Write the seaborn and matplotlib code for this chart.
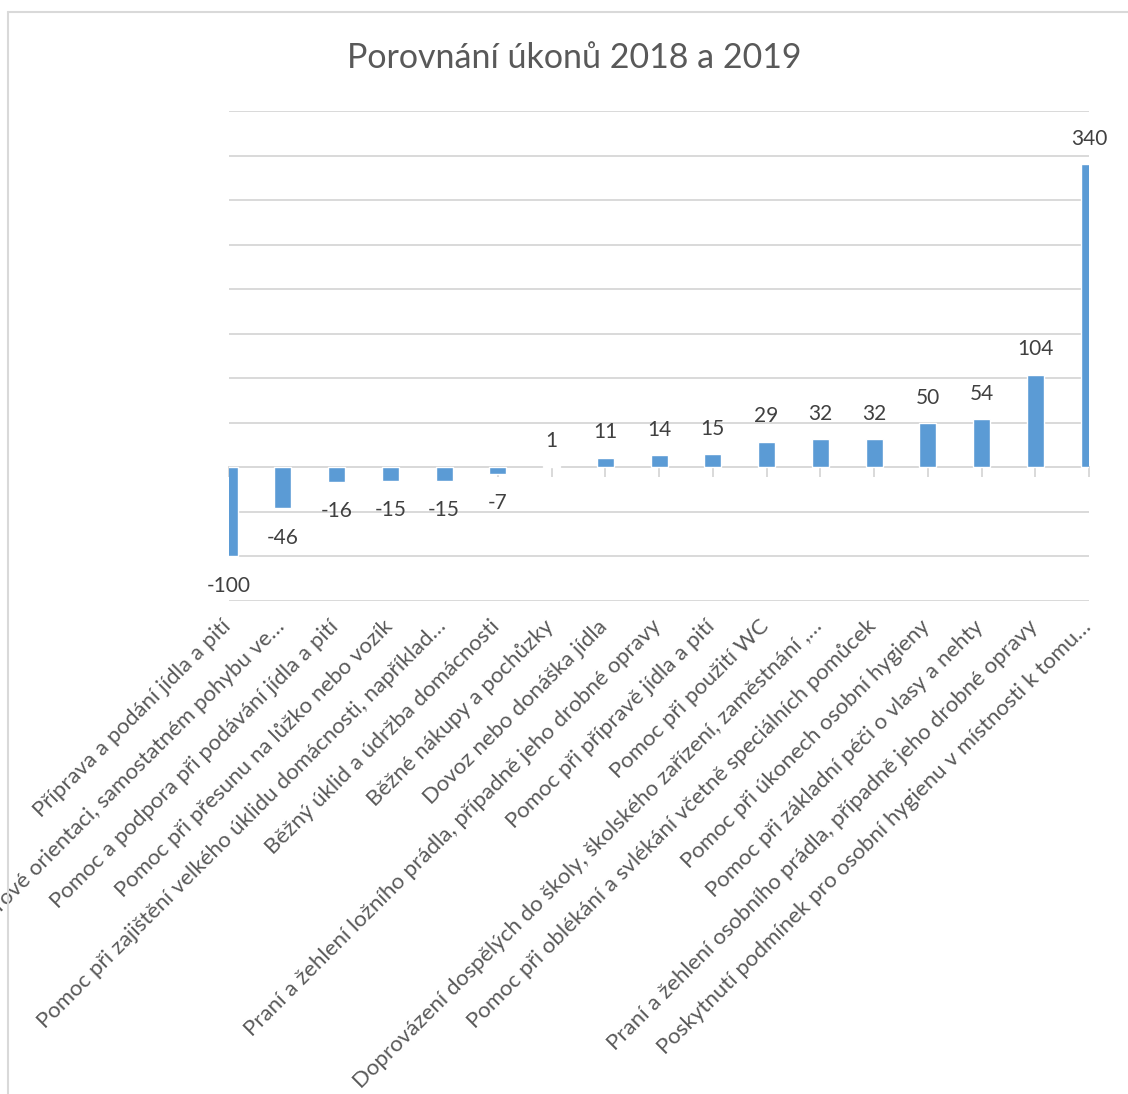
import matplotlib
matplotlib.use('Agg')
import matplotlib.pyplot as plt
import matplotlib.transforms as mtransforms
from matplotlib.lines import Line2D
import seaborn as sns
import pandas as pd

categories = [
    "Příprava a podání jídla a pití",
    "Pomoc při prostorové orientaci, samostatném pohybu ve…",
    "Pomoc a podpora při podávání jídla a pití",
    "Pomoc při přesunu na lůžko nebo vozík",
    "Pomoc při zajištění velkého úklidu domácnosti, například…",
    "Běžný úklid a údržba domácnosti",
    "Běžné nákupy a pochůzky",
    "Dovoz nebo donáška jídla",
    "Praní a žehlení ložního prádla, případně jeho drobné opravy",
    "Pomoc při přípravě jídla a pití",
    "Pomoc při použití WC",
    "Doprovázení dospělých do školy, školského zařízení, zaměstnání ,…",
    "Pomoc při oblékání a svlékání včetně speciálních pomůcek",
    "Pomoc při úkonech osobní hygieny",
    "Pomoc při základní péči o vlasy a nehty",
    "Praní a žehlení osobního prádla, případně jeho drobné opravy",
    "Poskytnutí podmínek pro osobní hygienu v místnosti k tomu…",
]
values = [-100, -46, -16, -15, -15, -7, 1, 11, 14, 15, 29, 32, 32, 50, 54, 104, 340]
title = "Porovnání úkonů 2018 a 2019"

sns.set_theme(style='white')
plt.rcParams['font.family'] = ['Lato', 'DejaVu Sans']

W, H = 1128, 1094
fig = plt.figure(figsize=(W / 100, H / 100), dpi=100)
L, R, T, B = 229, 1089, 111, 601
ax = fig.add_axes([L / W, 1 - B / H, (R - L) / W, (B - T) / H])

df = pd.DataFrame({'cat': categories, 'val': values})
sns.barplot(data=df, x='cat', y='val', color='#5B9BD5', saturation=1,
            width=17 / 53.75, ax=ax, zorder=2)

ax.set_xlim(0, len(categories) - 1)
ax.set_ylim(-150, 400)
ax.set_yticks(range(-150, 401, 50))
ax.yaxis.grid(True, color='#d9d9d9', lw=1.4)
ax.xaxis.grid(False)
ax.set_axisbelow(True)
ax.tick_params(axis='y', left=False, labelleft=False)
for s in ax.spines.values():
    s.set_visible(False)
ax.set_xlabel('')
ax.set_ylabel('')

# zero line with category tick marks
ax.spines['top'].set_visible(True)
ax.spines['top'].set_position(('data', 0))
ax.spines['top'].set_color('#d9d9d9')
ax.spines['top'].set_linewidth(1.4)
ax.spines['top'].set_zorder(1)

ax.set_xticks(range(len(categories)))
ax.set_xticklabels(categories, rotation=45, ha='right', rotation_mode='anchor')
ax.tick_params(axis='x', bottom=False, top=True, labelbottom=True, labeltop=False,
               direction='in', length=7, width=1.4, color='#d9d9d9',
               pad=11, labelsize=16, labelcolor='#595959')
offset = mtransforms.ScaledTranslation(-8 / 100, 0, fig.dpi_scale_trans)
for lab in ax.get_xticklabels():
    lab.set_transform(lab.get_transform() + offset)

bars = ax.containers[0]
pos_labels = [str(v) if v > 0 else '' for v in values]
neg_labels = [str(v) if v < 0 else '' for v in values]
ax.bar_label(bars, labels=pos_labels, padding=11, fontsize=15, color='#404040')
ax.bar_label(bars, labels=neg_labels, padding=14, fontsize=15, color='#404040')

fig.text(574 / W, 1 - 58 / H, title, ha='center', va='center',
         fontsize=24.5, color='#595959')

# outer frame (left and top edges)
fig.add_artist(Line2D([8 / W, 8 / W], [0, 1 - 12 / H], transform=fig.transFigure,
                      color='#d9d9d9', lw=1.5))
fig.add_artist(Line2D([8 / W, 1], [1 - 12 / H, 1 - 12 / H], transform=fig.transFigure,
                      color='#d9d9d9', lw=1.5))

fig.savefig('out.png', dpi=100, facecolor='white')
